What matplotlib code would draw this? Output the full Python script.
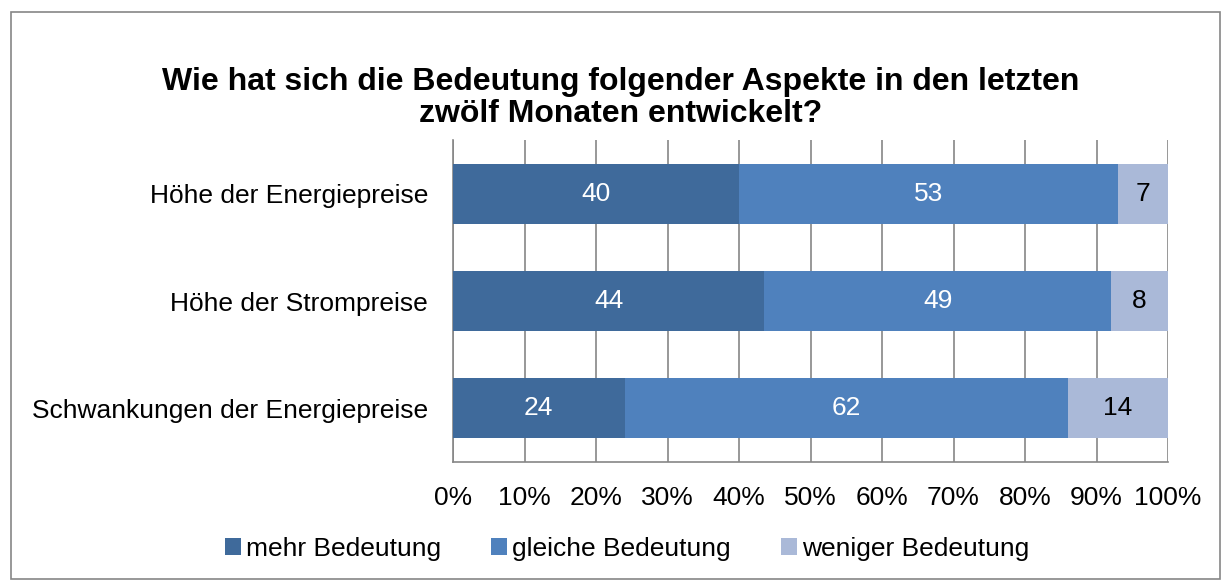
import numpy as np
import matplotlib.pyplot as plt
from matplotlib.patches import Rectangle

plt.rcParams['font.family'] = ['Liberation Sans', 'DejaVu Sans']

categories = ['Höhe der Energiepreise', 'Höhe der Strompreise', 'Schwankungen der Energiepreise']
mehr = [40, 44, 24]
gleich = [53, 49, 62]
weniger = [7, 8, 14]
series_names = ['mehr Bedeutung', 'gleiche Bedeutung', 'weniger Bedeutung']
colors = ['#3F6A9B', '#4F81BD', '#AAB9D8']
label_colors = ['white', 'white', 'black']
title = 'Wie hat sich die Bedeutung folgender Aspekte in den letzten\nzwölf Monaten entwickelt?'

W, H = 1221, 581
fs = 19
fig = plt.figure(figsize=(W / 100, H / 100), dpi=100)
fig.patches.append(Rectangle((11 / W, 1 - 579 / H), 1209 / W, 567 / H, transform=fig.transFigure,
                             fill=False, edgecolor='#868686', linewidth=1.2))

ax = fig.add_axes([453 / W, 1 - 462 / H, 715 / W, 322 / H])

data = np.array([mehr, gleich, weniger], dtype=float)
totals = data.sum(axis=0)
share = data / totals * 100
y = np.arange(len(categories))
left = np.zeros(len(categories))
for i, name in enumerate(series_names):
    ax.barh(y, share[i], left=left, height=0.56, color=colors[i], label=name, zorder=3)
    for j in range(len(categories)):
        ax.text(left[j] + share[i][j] / 2, y[j], f'{int(data[i][j])}', ha='center', va='center',
                color=label_colors[i], fontsize=fs, zorder=4)
    left += share[i]

ax.set_xlim(0, 100)
ax.set_ylim(2.5, -0.5)
ax.set_yticks(y)
ax.set_yticklabels(categories, fontsize=fs)
ax.set_xticks(np.arange(0, 101, 10))
ax.set_xticklabels([f'{v}%' for v in range(0, 101, 10)], fontsize=fs)
ax.tick_params(axis='both', length=0)
ax.tick_params(axis='x', pad=17)
ax.tick_params(axis='y', pad=18)
ax.xaxis.grid(True, color='#868686', linewidth=1.2, zorder=0)
ax.set_axisbelow(True)
for s in ['top', 'right']:
    ax.spines[s].set_visible(False)
for s in ['left', 'bottom']:
    ax.spines[s].set_color('#868686')
    ax.spines[s].set_linewidth(1.2)

fig.text(621 / W, 1 - 98 / H, title, ha='center', va='center', fontsize=23, fontweight='bold',
         linespacing=1.1)

fig.legend(loc='center', bbox_to_anchor=(627 / W, 1 - 549 / H), ncol=3, frameon=False,
           fontsize=fs, handlelength=0.6, handleheight=0.6, handletextpad=0.2, columnspacing=1.9)

fig.savefig('out.png', dpi=100)
